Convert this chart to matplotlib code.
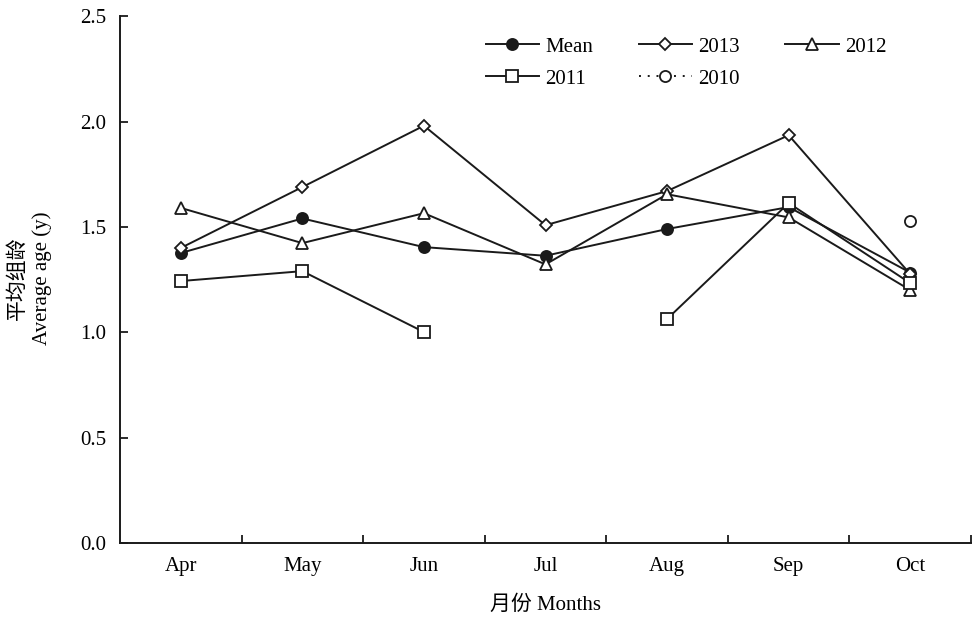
import numpy as np
import matplotlib
matplotlib.use("Agg")
import matplotlib.pyplot as plt

plt.rcParams['font.family'] = ['Liberation Serif', 'Noto Sans CJK SC']

months = ["Apr", "May", "Jun", "Jul", "Aug", "Sep", "Oct"]
nan = np.nan
mean_vals = [1.376, 1.540, 1.404, 1.363, 1.490, 1.594, 1.283]
y2013 = [1.400, 1.689, 1.980, 1.508, 1.670, 1.935, 1.276]
y2012 = [1.590, 1.423, 1.565, 1.322, 1.655, 1.545, 1.200]
y2011 = [1.243, 1.290, 1.001, nan, 1.063, 1.613, 1.233]
y2010 = [nan, nan, nan, nan, nan, nan, 1.527]

fig = plt.figure(figsize=(9.73, 6.21), dpi=100)
ax = fig.add_axes([0.1233, 0.1256, 0.8747, 0.8484])

x = np.arange(len(months))
ink = '#1a1a1a'
ms = 8
kw = dict(color=ink, lw=1.4, markeredgewidth=1.3, markeredgecolor=ink)

h_mean, = ax.plot(x, mean_vals, marker='o', ms=ms, markerfacecolor=ink, label='Mean', **kw)
h13, = ax.plot(x, y2013, marker='D', ms=ms - 1.5, markerfacecolor='white', label='2013', **kw)
h12, = ax.plot(x, y2012, marker='^', ms=ms + 1, markerfacecolor='white', label='2012', **kw)
# 2011 has no July value, so its line is broken there
h11, = ax.plot(x, y2011, marker='s', ms=ms, markerfacecolor='white', label='2011', **kw)
h10, = ax.plot(x, y2010, marker='o', ms=ms, markerfacecolor='white',
               linestyle=(0, (1, 3.5)), label='2010', **kw)

ax.set_xlim(-0.5, len(months) - 0.5)
ax.set_ylim(0, 2.5)
yt = np.arange(0, 2.51, 0.5)
ax.set_yticks(yt)
ax.set_yticklabels([f"{v:.1f}" for v in yt])
ax.set_xticks(np.arange(0.5, len(months), 1.0))
ax.set_xticklabels([])
ax.set_xticks(x, minor=True)
ax.set_xticklabels(months, minor=True)
ax.tick_params(axis='x', which='major', direction='in', length=6, width=1.3, color=ink)
ax.tick_params(axis='x', which='minor', length=0, pad=10, labelsize=15)
ax.tick_params(axis='y', which='major', direction='in', length=6, width=1.3,
               color=ink, labelsize=15, pad=10)

for side in ('top', 'right'):
    ax.spines[side].set_visible(False)
for side in ('left', 'bottom'):
    ax.spines[side].set_linewidth(1.4)
    ax.spines[side].set_color(ink)

ax.set_xlabel("月份 Months", fontsize=15, labelpad=14)
fig.text(0.018, 1 - 278 / 621, "平均组龄", rotation=90, va='center', ha='center', fontsize=15)
fig.text(0.043, 1 - 278 / 621, "Average age (y)", rotation=90, va='center', ha='center', fontsize=15)

# row-wise order: Mean, 2013, 2012 / 2011, 2010
handles = [h_mean, h11, h13, h10, h12]
ax.legend(handles, [h.get_label() for h in handles], ncol=3, loc='upper left',
          bbox_to_anchor=(0.4075, 0.996), frameon=False, fontsize=15,
          handlelength=2.55, columnspacing=2.2, handletextpad=0.3, labelspacing=0.6)

fig.savefig("out.png", dpi=100)
